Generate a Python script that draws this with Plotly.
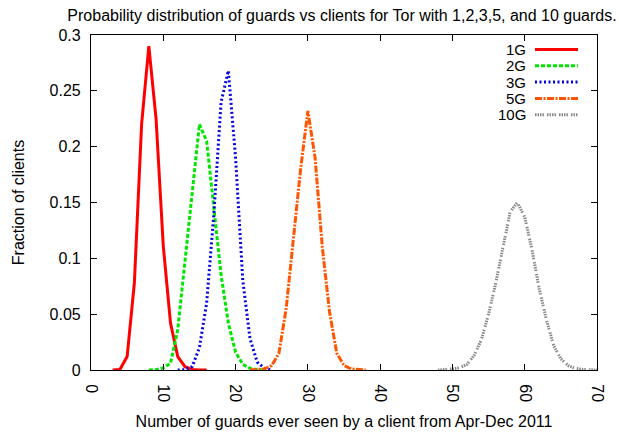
import plotly.graph_objects as go

# ---- data ----
x_1g = [3, 4, 5, 6, 7, 8, 9, 10, 11, 12, 13, 14, 15, 16]
y_1g = [0, 0.0005, 0.012, 0.078, 0.22, 0.29, 0.225, 0.111, 0.042, 0.012, 0.003, 0.0005, 0, 0]

x_2g = [8, 9, 10, 11, 12, 13, 14, 15, 16, 17, 18, 19, 20, 21, 22, 23, 24]
y_2g = [0, 0.0003, 0.002, 0.006, 0.036, 0.098, 0.162, 0.22, 0.205, 0.145, 0.085, 0.042, 0.016, 0.005, 0.0015, 0.0003, 0]

x_3g = [12, 13, 14, 15, 16, 17, 18, 19, 20, 21, 22, 23, 24, 25]
y_3g = [0, 0.0003, 0.003, 0.02, 0.06, 0.14, 0.24, 0.268, 0.19, 0.08, 0.028, 0.007, 0.0015, 0]

x_5g = [22, 23, 24, 25, 26, 27, 28, 29, 30, 31, 32, 33, 34, 35, 36, 37, 38]
y_5g = [0, 0.0002, 0.001, 0.004, 0.015, 0.055, 0.115, 0.18, 0.232, 0.19, 0.11, 0.052, 0.015, 0.004, 0.001, 0.0002, 0]

x_10g = [48, 49, 50, 51, 52, 53, 54, 55, 56, 57, 58, 59, 60, 61, 62, 63, 64, 65, 66, 67, 68, 69, 70]
y_10g = [0, 0.0003, 0.001, 0.002, 0.005, 0.013, 0.027, 0.05, 0.078, 0.11, 0.142, 0.15, 0.137, 0.108,
         0.073, 0.045, 0.022, 0.01, 0.004, 0.0015, 0.0005, 0.0002, 0]

series_names = ["1G", "2G", "3G", "5G", "10G"]
x_ticks = [0, 10, 20, 30, 40, 50, 60, 70]
y_ticks = [0, 0.05, 0.1, 0.15, 0.2, 0.25, 0.3]
y_tick_labels = ["0", "0.05", "0.1", "0.15", "0.2", "0.25", "0.3"]

title = "Probability distribution of guards vs clients for Tor with 1,2,3,5, and 10 guards."
x_title = "Number of guards ever seen by a client from Apr-Dec 2011"
y_title = "Fraction of clients"

# ---- styles ----
colors = ["#ff0000", "#00e600", "#0000e0", "#ff5500", "#888888"]
dashes = ["solid", "4px,2px", "2px,2.5px", "7px,1.5px,2px,1.5px",
          "1.5px,1px,1.5px,1px,1.5px,1px,1.5px,3px"]
widths = [3, 3, 3, 3, 3]

FONT = "Liberation Sans, Arial, Helvetica, sans-serif"
FS = 16
LEG_FS = 15

fig = go.Figure()
xs = [x_1g, x_2g, x_3g, x_5g, x_10g]
ys = [y_1g, y_2g, y_3g, y_5g, y_10g]
for name, xv, yv, c, d, w in zip(series_names, xs, ys, colors, dashes, widths):
    fig.add_trace(go.Scatter(x=xv, y=yv, mode="lines", name=name,
                             line=dict(color=c, dash=d, width=w),
                             showlegend=False))

# custom gnuplot-style legend (text left, sample right)
W, H = 619, 437
ml, mr, mt, mb = 91, 22, 35, 67
pw, ph = W - ml - mr, H - mt - mb
def px_to_paper_x(px):
    return (px - ml) / pw
def px_to_paper_y(py):
    return 1 - (py - mt) / ph

row_y = [49.5, 65.8, 82.1, 98.4, 114.7]
for i, name in enumerate(series_names):
    yy = px_to_paper_y(row_y[i])
    fig.add_annotation(x=px_to_paper_x(527), y=yy, xref="paper", yref="paper",
                       text=name, showarrow=False, xanchor="right", yanchor="middle",
                       borderpad=0, align="right",
                       font=dict(size=LEG_FS, color="black", family=FONT))
    fig.add_shape(type="line", xref="paper", yref="paper",
                  x0=px_to_paper_x(535), x1=px_to_paper_x(578), y0=yy, y1=yy,
                  line=dict(color=colors[i], dash=dashes[i], width=widths[i]))

axis_common = dict(showline=True, linecolor="black", linewidth=1.2, mirror="ticks",
                   ticks="inside", ticklen=6, tickcolor="black", tickwidth=1.2,
                   showgrid=False, zeroline=False, automargin=False,
                   tickfont=dict(size=FS, color="black", family=FONT))

fig.update_xaxes(range=[0, 70], tickvals=x_ticks, tickangle=90, ticklabelstandoff=10,
                 title=dict(text=x_title, font=dict(size=FS, color="black", family=FONT), standoff=14),
                 **axis_common)
fig.update_yaxes(range=[0, 0.3], tickvals=y_ticks, ticktext=y_tick_labels, ticklabelstandoff=6,
                 title=dict(text=y_title, font=dict(size=FS, color="black", family=FONT), standoff=20),
                 **axis_common)

fig.update_layout(
    width=W, height=H,
    margin=dict(l=ml, r=mr, t=mt, b=mb),
    paper_bgcolor="white", plot_bgcolor="white",
    title=dict(text=title, x=342 / W, xanchor="center", y=1 - 15 / H, yanchor="middle",
               font=dict(size=FS, color="black", family=FONT)),
    font=dict(family=FONT, color="black"),
)

fig.write_html("out.html", config={"displayModeBar": False},
               post_script="document.body.style.margin='0px';")
